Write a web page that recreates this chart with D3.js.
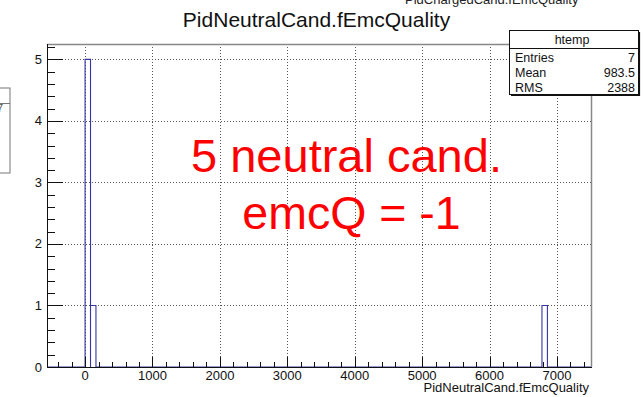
<!DOCTYPE html>
<html>
<head>
<meta charset="utf-8">
<script src="https://cdn.jsdelivr.net/npm/d3@7"></script>
<style>
  html, body { margin: 0; padding: 0; background: #fff; }
  svg { display: block; font-family: "Liberation Sans", Arial, Helvetica, sans-serif; }
</style>
</head>
<body>
<svg id="chart" width="644" height="397"></svg>
<script>
// Histogram of PidNeutralCand.fEmcQuality (100 bins over the axis range)
const xRange = [-565, 7505];
const nBins = 100;
const binLowEdges = [-0.2, 80.5, 6777.8];   // lower edges of the filled bins
const binCounts = [5, 1, 1];
const xTickValues = [0, 1000, 2000, 3000, 4000, 5000, 6000, 7000];
const yTickValues = [0, 1, 2, 3, 4, 5];
const statsLabels = ["Entries", "Mean", "RMS"];
const statsValues = ["7", "983.5", "2388"];
const noteLines = ["5 neutral cand.", "emcQ = -1"];

const binWidth = (xRange[1] - xRange[0]) / nBins;
const svg = d3.select("#chart");
const frame = { left: 47, right: 591, top: 44, bottom: 367 };

const x = d3.scaleLinear().domain(xRange).range([frame.left, frame.right]);
const y = d3.scaleLinear().domain([0, 5.25]).range([frame.bottom, frame.top]);

// clipped title of the neighbouring pad
svg.append("text").attr("x", 405).attr("y", 3.5)
  .attr("font-size", 13).attr("fill", "#222")
  .text("PidChargedCand.fEmcQuality");

// stats box of the neighbouring pad, cut by the left edge
svg.append("rect").attr("x", -80).attr("y", 88).attr("width", 90).attr("height", 85)
  .attr("fill", "#fff").attr("stroke", "#777").attr("stroke-width", 1);
svg.append("line").attr("x1", -80).attr("x2", 10).attr("y1", 103.5).attr("y2", 103.5)
  .attr("stroke", "#777");
svg.append("text").attr("x", 3).attr("y", 112).attr("text-anchor", "end")
  .attr("font-size", 11).attr("fill", "#555").text("7");

// title
svg.append("text").attr("x", 316.5).attr("y", 27).attr("text-anchor", "middle")
  .attr("font-size", 21).attr("fill", "#111")
  .text("PidNeutralCand.fEmcQuality");

// grid
const grid = svg.append("g");
grid.selectAll("line.gx").data(xTickValues).join("line")
  .attr("x1", d => Math.round(x(d)) + 0.5).attr("x2", d => Math.round(x(d)) + 0.5)
  .attr("y1", frame.top).attr("y2", frame.bottom)
  .attr("stroke", "#555").attr("stroke-width", 1).attr("stroke-dasharray", "1,2");
grid.selectAll("line.gy").data(yTickValues.filter(d => d > 0)).join("line")
  .attr("x1", frame.left).attr("x2", frame.right)
  .attr("y1", d => Math.round(y(d)) + 0.5).attr("y2", d => Math.round(y(d)) + 0.5)
  .attr("stroke", "#555").attr("stroke-width", 1).attr("stroke-dasharray", "1,2");

// histogram outline (steps)
const pts = [[xRange[0], 0]];
binLowEdges.forEach((lo, i) => {
  pts.push([lo, 0], [lo, binCounts[i]], [lo + binWidth, binCounts[i]], [lo + binWidth, 0]);
});
pts.push([xRange[1], 0]);
svg.append("path")
  .attr("d", d3.line().x(d => x(d[0])).y(d => y(d[1]))(pts))
  .attr("fill", "none").attr("stroke", "#3434a6").attr("stroke-width", 1.1);

// frame (top and right edges)
svg.append("path")
  .attr("d", `M${frame.left},${frame.top + 0.5}H${frame.right + 0.5}V${frame.bottom}`)
  .attr("fill", "none").attr("stroke", "#888").attr("stroke-width", 1.5);

// x axis
const gx = svg.append("g").attr("transform", `translate(0,${frame.bottom})`);
gx.append("line").attr("x1", frame.left).attr("x2", frame.right + 1)
  .attr("y1", 0.5).attr("y2", 0.5).attr("stroke", "#111");
const xMinor = d3.range(-400, 7500, 200).filter(v => v % 1000 !== 0);
gx.selectAll("line.minor").data(xMinor).join("line")
  .attr("x1", d => Math.round(x(d)) + 0.5).attr("x2", d => Math.round(x(d)) + 0.5)
  .attr("y1", 0).attr("y2", -5).attr("stroke", "#111");
gx.selectAll("line.major").data(xTickValues).join("line")
  .attr("x1", d => Math.round(x(d)) + 0.5).attr("x2", d => Math.round(x(d)) + 0.5)
  .attr("y1", 0).attr("y2", -10).attr("stroke", "#111");
gx.selectAll("text.lbl").data(xTickValues).join("text")
  .attr("x", d => x(d)).attr("y", 13).attr("text-anchor", "middle")
  .attr("font-size", 13).attr("fill", "#111").text(d => d);

svg.append("text").attr("x", 589).attr("y", 392).attr("text-anchor", "end")
  .attr("font-size", 13).attr("fill", "#111").text("PidNeutralCand.fEmcQuality");

// y axis
const gy = svg.append("g");
gy.append("line").attr("x1", frame.left + 0.5).attr("x2", frame.left + 0.5)
  .attr("y1", frame.top).attr("y2", frame.bottom + 1).attr("stroke", "#111");
const yMinor = d3.range(0.2, 5.25, 0.2).filter(v => Math.abs(v - Math.round(v)) > 0.01);
gy.selectAll("line.minor").data(yMinor).join("line")
  .attr("x1", frame.left).attr("x2", frame.left + 8)
  .attr("y1", d => Math.round(y(d)) + 0.5).attr("y2", d => Math.round(y(d)) + 0.5)
  .attr("stroke", "#111");
gy.selectAll("line.major").data(yTickValues).join("line")
  .attr("x1", frame.left).attr("x2", frame.left + 16)
  .attr("y1", d => Math.round(y(d)) + 0.5).attr("y2", d => Math.round(y(d)) + 0.5)
  .attr("stroke", "#111");
gy.selectAll("text.lbl").data(yTickValues).join("text")
  .attr("x", 42).attr("y", d => y(d) + 4.5).attr("text-anchor", "end")
  .attr("font-size", 13).attr("fill", "#111").text(d => d);

// annotation
const note = svg.append("g").attr("fill", "#ff0000").attr("text-anchor", "middle");
note.append("text").attr("x", 346.5).attr("y", 172).attr("font-size", 47).text(noteLines[0]);
note.append("text").attr("x", 351.5).attr("y", 229).attr("font-size", 46.5).text(noteLines[1]);

// stats box
const sb = svg.append("g");
sb.append("rect").attr("x", 509.5).attr("y", 30.5).attr("width", 129).attr("height", 64)
  .attr("fill", "#fff").attr("stroke", "#111").attr("stroke-width", 1);
sb.append("line").attr("x1", 639.5).attr("x2", 639.5).attr("y1", 32).attr("y2", 96)
  .attr("stroke", "#111").attr("stroke-width", 1.2);
sb.append("line").attr("x1", 511).attr("x2", 640).attr("y1", 95.5).attr("y2", 95.5)
  .attr("stroke", "#111").attr("stroke-width", 1.2);
sb.append("line").attr("x1", 509.5).attr("x2", 638.5).attr("y1", 48.5).attr("y2", 48.5)
  .attr("stroke", "#111");
sb.append("text").attr("x", 572).attr("y", 43.5).attr("text-anchor", "middle")
  .attr("font-size", 12.5).attr("fill", "#111").text("htemp");
statsLabels.forEach((lab, i) => {
  const by = 61.5 + i * 15;
  sb.append("text").attr("x", 515).attr("y", by).attr("font-size", 12.5)
    .attr("fill", "#111").text(lab);
  sb.append("text").attr("x", 635).attr("y", by).attr("text-anchor", "end")
    .attr("font-size", 12.5).attr("fill", "#111").text(statsValues[i]);
});
</script>
</body>
</html>
